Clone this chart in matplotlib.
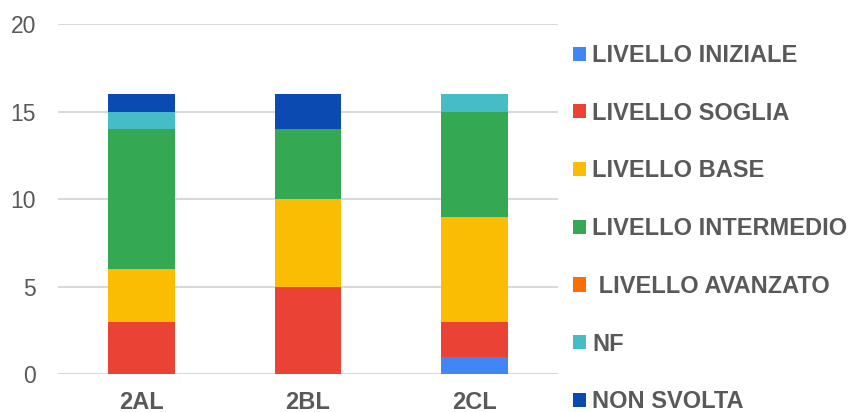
import matplotlib
matplotlib.use("Agg")
import matplotlib.pyplot as plt
import numpy as np
from matplotlib.patches import Patch

categories = ["2AL", "2BL", "2CL"]
series_names = ["LIVELLO INIZIALE", "LIVELLO SOGLIA", "LIVELLO BASE", "LIVELLO INTERMEDIO",
                " LIVELLO AVANZATO", "NF", "NON SVOLTA"]
iniziale = [0, 0, 1]
soglia = [3, 5, 2]
base = [3, 5, 6]
intermedio = [8, 4, 6]
avanzato = [0, 0, 0]
nf = [1, 0, 1]
non_svolta = [1, 2, 0]
colors = ["#4285F4", "#EA4335", "#FBBC04", "#34A853", "#FF6D01", "#46BDC6", "#0B4AB0"]
yticks = [0, 5, 10, 15, 20]

plt.rcParams['font.family'] = ['Liberation Sans', 'DejaVu Sans']
fig = plt.figure(figsize=(8.52, 4.12), dpi=100)
ax = fig.add_axes([58/852, 1-374/412, 500/852, 350/412])

data = [iniziale, soglia, base, intermedio, avanzato, nf, non_svolta]
x = np.arange(len(categories))
bottom = np.zeros(len(categories))
for vals, c in zip(data, colors):
    v = np.array(vals, dtype=float)
    ax.bar(x, v, bottom=bottom, width=0.4, color=c, zorder=3)
    bottom += v

ax.set_xlim(-0.5, 2.5)
ax.set_ylim(0, 20)
ax.set_yticks(yticks)
ax.set_yticklabels([str(t) for t in yticks], fontsize=16.5, color="#595959")
ax.set_xticks(x)
ax.set_xticklabels(categories, fontsize=17, fontweight="bold", color="#595959")
ax.tick_params(axis='y', length=0, pad=16)
ax.tick_params(axis='x', length=0, pad=12)
ax.yaxis.grid(True, color="#d9d9d9", linewidth=1.5, zorder=0)
ax.set_axisbelow(True)
for s in ax.spines.values():
    s.set_visible(False)

handles = [Patch(facecolor=c, edgecolor='none') for c in colors]
leg = fig.legend(handles, series_names, loc='upper left', bbox_to_anchor=(573/852, 1-44/412),
                 frameon=False, borderpad=0, borderaxespad=0, labelspacing=1.47,
                 handlelength=0.55, handleheight=0.55, handletextpad=0.25,
                 prop={'size': 17, 'weight': 'bold'})
for t in leg.get_texts():
    t.set_color("#595959")

fig.savefig("out.png", dpi=100)
